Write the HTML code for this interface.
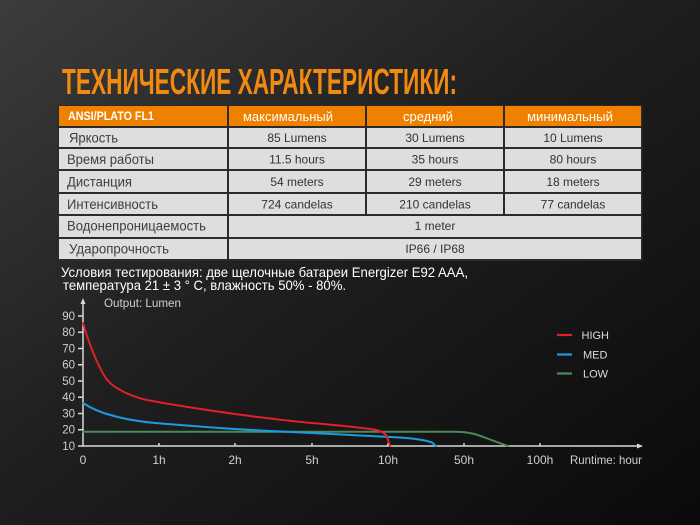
<!DOCTYPE html>
<html>
<head>
<meta charset="utf-8">
<style>
  html,body{margin:0;padding:0;background:#1a1a1a;}
  svg{display:block;}
  text{font-family:"Liberation Sans","DejaVu Sans",sans-serif;}
</style>
</head>
<body>
<svg width="700" height="525" viewBox="0 0 700 525" xmlns="http://www.w3.org/2000/svg">
  <defs>
    <linearGradient id="bg" x1="0" y1="0" x2="1" y2="1">
      <stop offset="0" stop-color="#3c3c3c"/>
      <stop offset="0.45" stop-color="#1f1f1f"/>
      <stop offset="1" stop-color="#0a0a0a"/>
    </linearGradient>
  </defs>
  <rect x="0" y="0" width="700" height="525" fill="url(#bg)"/>

  <!-- Title -->
  <text x="62" y="94" font-family="'Liberation Sans Narrow','Liberation Sans',sans-serif" font-weight="bold" font-size="36" fill="#f28a10" textLength="395" lengthAdjust="spacingAndGlyphs">ТЕХНИЧЕСКИЕ ХАРАКТЕРИСТИКИ:</text>

  <!-- Table -->
  <rect x="57.5" y="105" width="585" height="156" fill="#2b2b2b"/>
  <g fill="#f08000">
    <rect x="59" y="106" width="168" height="20"/>
    <rect x="229" y="106" width="136" height="20"/>
    <rect x="367" y="106" width="136" height="20"/>
    <rect x="505" y="106" width="136" height="20"/>
  </g>
  <g fill="#dedede">
    <rect x="59" y="128" width="168" height="19"/>
    <rect x="229" y="128" width="136" height="19"/>
    <rect x="367" y="128" width="136" height="19"/>
    <rect x="505" y="128" width="136" height="19"/>

    <rect x="59" y="149" width="168" height="20"/>
    <rect x="229" y="149" width="136" height="20"/>
    <rect x="367" y="149" width="136" height="20"/>
    <rect x="505" y="149" width="136" height="20"/>

    <rect x="59" y="171" width="168" height="21"/>
    <rect x="229" y="171" width="136" height="21"/>
    <rect x="367" y="171" width="136" height="21"/>
    <rect x="505" y="171" width="136" height="21"/>

    <rect x="59" y="194" width="168" height="20"/>
    <rect x="229" y="194" width="136" height="20"/>
    <rect x="367" y="194" width="136" height="20"/>
    <rect x="505" y="194" width="136" height="20"/>

    <rect x="59" y="216" width="168" height="21"/>
    <rect x="229" y="216" width="412" height="21"/>

    <rect x="59" y="239" width="168" height="20"/>
    <rect x="229" y="239" width="412" height="20"/>
  </g>

  <!-- Header text -->
  <text x="68" y="120" font-size="11.5" font-weight="bold" fill="#ffffff" textLength="86" lengthAdjust="spacingAndGlyphs">ANSI/PLATO FL1</text>
  <g font-size="12.5" fill="#ffffff" text-anchor="middle">
    <text x="288" y="121" textLength="90" lengthAdjust="spacingAndGlyphs">максимальный</text>
    <text x="428" y="121" textLength="50" lengthAdjust="spacingAndGlyphs">средний</text>
    <text x="570" y="121" textLength="86" lengthAdjust="spacingAndGlyphs">минимальный</text>
  </g>

  <!-- First column labels -->
  <g font-size="13.5" fill="#3e3e3e">
    <text x="69" y="142.5" textLength="49" lengthAdjust="spacingAndGlyphs">Яркость</text>
    <text x="67" y="164" textLength="87" lengthAdjust="spacingAndGlyphs">Время работы</text>
    <text x="67" y="186.5" textLength="65" lengthAdjust="spacingAndGlyphs">Дистанция</text>
    <text x="67" y="209" textLength="91" lengthAdjust="spacingAndGlyphs">Интенсивность</text>
    <text x="67" y="230.5" textLength="139" lengthAdjust="spacingAndGlyphs">Водонепроницаемость</text>
    <text x="69" y="253.5" textLength="100" lengthAdjust="spacingAndGlyphs">Ударопрочность</text>
  </g>

  <!-- Values -->
  <g font-size="12" fill="#333333" text-anchor="middle">
    <text x="297" y="142">85 Lumens</text>
    <text x="435" y="142">30 Lumens</text>
    <text x="573" y="142">10 Lumens</text>

    <text x="297" y="163.5">11.5 hours</text>
    <text x="435" y="163.5">35 hours</text>
    <text x="573" y="163.5">80 hours</text>

    <text x="297" y="186">54 meters</text>
    <text x="435" y="186">29 meters</text>
    <text x="573" y="186">18 meters</text>

    <text x="297" y="208.5">724 candelas</text>
    <text x="435" y="208.5">210 candelas</text>
    <text x="573" y="208.5">77 candelas</text>

    <text x="435" y="230">1 meter</text>
    <text x="435" y="253">IP66 / IP68</text>
  </g>

  <!-- Test conditions -->
  <g font-size="14" fill="#ffffff">
    <text x="61" y="277" textLength="407" lengthAdjust="spacingAndGlyphs">Условия тестирования: две щелочные батареи Energizer E92 AAA,</text>
    <text x="63" y="290" textLength="283" lengthAdjust="spacingAndGlyphs">температура 21 ± 3 ° C, влажность 50% - 80%.</text>
  </g>

  <!-- Axes -->
  <g stroke="#d8d8d8" stroke-width="1.5" fill="none">
    <line x1="83" y1="446" x2="83" y2="302"/>
    <line x1="82.25" y1="446" x2="638" y2="446"/>
    <!-- y ticks -->
    <line x1="78" y1="316" x2="83" y2="316"/>
    <line x1="78" y1="332.25" x2="83" y2="332.25"/>
    <line x1="78" y1="348.5" x2="83" y2="348.5"/>
    <line x1="78" y1="364.75" x2="83" y2="364.75"/>
    <line x1="78" y1="381" x2="83" y2="381"/>
    <line x1="78" y1="397.25" x2="83" y2="397.25"/>
    <line x1="78" y1="413.5" x2="83" y2="413.5"/>
    <line x1="78" y1="429.75" x2="83" y2="429.75"/>
    <line x1="78" y1="446" x2="83" y2="446"/>
    <!-- x ticks -->
    <line x1="159" y1="443" x2="159" y2="446"/>
    <line x1="235" y1="443" x2="235" y2="446"/>
    <line x1="312" y1="443" x2="312" y2="446"/>
    <line x1="388" y1="443" x2="388" y2="446"/>
    <line x1="464" y1="443" x2="464" y2="446"/>
    <line x1="540" y1="443" x2="540" y2="446"/>
  </g>
  <polygon points="83,298 80.5,304 85.5,304" fill="#d8d8d8"/>
  <polygon points="643,446 637,443.5 637,448.5" fill="#d8d8d8"/>

  <g font-size="11.5" fill="#cfcfcf" text-anchor="end">
    <text x="75" y="320">90</text>
    <text x="75" y="336.2">80</text>
    <text x="75" y="352.5">70</text>
    <text x="75" y="368.7">60</text>
    <text x="75" y="385">50</text>
    <text x="75" y="401.2">40</text>
    <text x="75" y="417.5">30</text>
    <text x="75" y="433.7">20</text>
    <text x="75" y="450">10</text>
  </g>
  <text x="104" y="307" font-size="11.5" fill="#cfcfcf" textLength="77" lengthAdjust="spacingAndGlyphs">Output: Lumen</text>

  <g font-size="12" fill="#cfcfcf" text-anchor="middle">
    <text x="83" y="464">0</text>
    <text x="159" y="464">1h</text>
    <text x="235" y="464">2h</text>
    <text x="312" y="464">5h</text>
    <text x="388" y="464">10h</text>
    <text x="464" y="464">50h</text>
    <text x="540" y="464">100h</text>
  </g>
  <text x="570" y="464" font-size="12" fill="#cfcfcf" textLength="72" lengthAdjust="spacingAndGlyphs">Runtime: hour</text>

  <!-- Series -->
  <g fill="none" stroke-width="2" stroke-linejoin="round" stroke-linecap="round">
    <path stroke="#4a8a58" d="M83,431.7 L455,431.7 C468,431.7 476,434 486,438 C494,441 502,444 508,446"/>
    <path stroke="#1d9be0" d="M83,403 C92,409 102,413 114,416 C128,420 140,421.5 155,423 C180,425 210,427.5 235,429 C260,430.5 290,432 312,433 C340,434.2 370,436 400,437.5 C415,438.5 425,440 432,442.5 L436,446"/>
    <path stroke="#e0202a" d="M83,323 C88,340 96,362 105,377 C110,384 116,388 124,392 C134,397 145,400 155,401.5 C180,406 210,410.5 235,414 C265,418 290,421 312,423 C335,425 355,427 370,429 C378,430 383,431.5 386,435 C388,439 389,443 390,446"/>
  </g>

  <!-- Legend -->
  <g stroke-width="2.2">
    <line x1="557" y1="335" x2="572" y2="335" stroke="#e0202a"/>
    <line x1="557" y1="354.5" x2="572" y2="354.5" stroke="#1d9be0"/>
    <line x1="557" y1="373.5" x2="572" y2="373.5" stroke="#4a8a58"/>
  </g>
  <g font-size="11" fill="#dedede">
    <text x="581.5" y="339">HIGH</text>
    <text x="583" y="358.5">MED</text>
    <text x="583" y="377.5">LOW</text>
  </g>
</svg>
</body>
</html>
